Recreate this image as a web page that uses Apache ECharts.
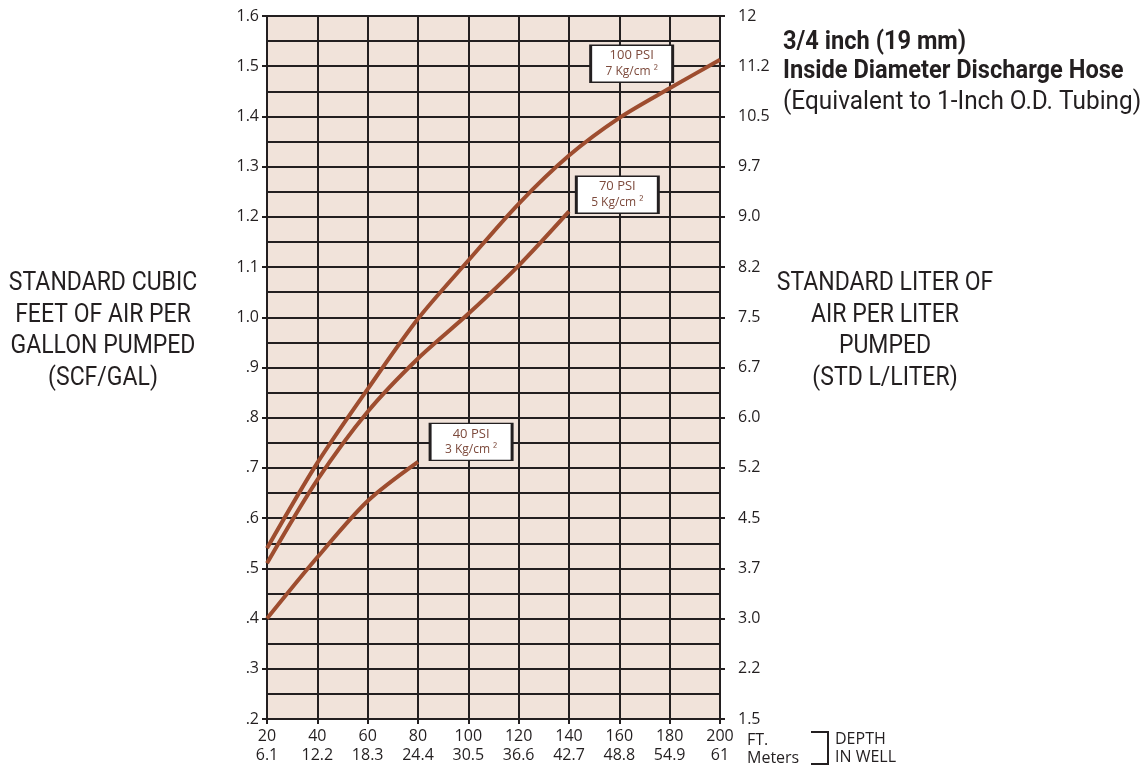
<!DOCTYPE html>
<html>
<head>
<meta charset="utf-8">
<script src="https://cdn.jsdelivr.net/npm/echarts@6/dist/echarts.min.js"></script>
<style>
html,body{margin:0;padding:0;background:#fff;}
#chart{width:1148px;height:770px;}
</style>
</head>
<body>
<div id="chart"></div>
<script>
// ---- data ----
const depthFt = [20, 40, 60, 80, 100, 120, 140, 160, 180, 200];
const depthM = ['6.1', '12.2', '18.3', '24.4', '30.5', '36.6', '42.7', '48.8', '54.9', '61'];
const leftTicks = ['.2', '.3', '.4', '.5', '.6', '.7', '.8', '.9', '1.0', '1.1', '1.2', '1.3', '1.4', '1.5', '1.6'];
const rightTicks = ['1.5', '2.2', '3.0', '3.7', '4.5', '5.2', '6.0', '6.7', '7.5', '8.2', '9.0', '9.7', '10.5', '11.2', '12'];
const psi100 = [0.54, 0.71, 0.857, 0.997, 1.113, 1.226, 1.322, 1.397, 1.456, 1.513];
const psi70 = [0.51, 0.676, 0.812, 0.918, 1.007, 1.103, 1.211];
const psi40 = [0.40, 0.522, 0.634, 0.712];

const INK = '#231f20';
const CURVE = '#9e4d2f';
const BOXTEXT = '#7d4a3c';
const tickFont = 'Open Sans';

function pairs(vals) { return vals.map((v, i) => [depthFt[i], v]); }
function idx(v) { return Math.round((v - 0.2) * 10); }

function boxMark(coord, l1, l2) {
  return {
    symbol: 'rect',
    symbolSize: [82, 37],
    silent: true,
    itemStyle: { color: '#ffffff', borderColor: INK, borderWidth: 2 },
    label: {
      show: true, position: 'inside',
      formatter: '{a|' + l1 + '}\n{b|' + l2 + '}',
      rich: {
        a: { fontFamily: tickFont, fontSize: 13, color: BOXTEXT, lineHeight: 16 },
        b: { fontFamily: tickFont, fontSize: 12, color: BOXTEXT, lineHeight: 16 }
      }
    },
    data: [{ coord: coord }]
  };
}

const chart = echarts.init(document.getElementById('chart'), null, { renderer: 'canvas' });

chart.setOption({
  animation: false,
  grid: {
    left: 267, right: 428, top: 16, bottom: 51,
    show: true, backgroundColor: '#f1e3da', borderWidth: 0
  },
  xAxis: {
    type: 'value', min: 20, max: 200, interval: 20,
    axisLine: { show: true, onZero: false, lineStyle: { color: INK, width: 2 } },
    axisTick: { show: true, length: 5, lineStyle: { color: INK, width: 2 } },
    splitLine: { show: true, lineStyle: { color: INK, width: 2 } },
    axisLabel: {
      margin: 8, fontFamily: tickFont, fontSize: 16, color: INK, lineHeight: 19,
      formatter: function (v) { const i = depthFt.indexOf(v); return v + '\n' + (i >= 0 ? depthM[i] : ''); }
    }
  },
  yAxis: [{
    type: 'value', min: 0.2, max: 1.6, interval: 0.1, position: 'left',
    axisLine: { show: true, lineStyle: { color: INK, width: 2 } },
    axisTick: { show: true, length: 5, lineStyle: { color: INK, width: 2 } },
    minorTick: { show: false, splitNumber: 2 },
    splitLine: { show: true, lineStyle: { color: INK, width: 2 } },
    minorSplitLine: { show: true, lineStyle: { color: INK, width: 2 } },
    axisLabel: {
      margin: 8, fontFamily: tickFont, fontSize: 16, color: INK,
      formatter: function (v) { return leftTicks[idx(v)]; }
    }
  }, {
    type: 'value', min: 0.2, max: 1.6, interval: 0.1, position: 'right',
    axisLine: { show: true, lineStyle: { color: INK, width: 2 } },
    axisTick: { show: true, length: 5, lineStyle: { color: INK, width: 2 } },
    splitLine: { show: false },
    axisLabel: {
      margin: 18, fontFamily: tickFont, fontSize: 16, color: INK,
      formatter: function (v) { return rightTicks[idx(v)]; }
    }
  }],
  series: [{
    name: '100 PSI', type: 'line', data: pairs(psi100), smooth: 0.3, showSymbol: false, z: 5,
    lineStyle: { color: CURVE, width: 4 },
    markPoint: boxMark([164.9, 1.505], '100 PSI', '7 Kg/cm ²')
  }, {
    name: '70 PSI', type: 'line', data: pairs(psi70), smooth: 0.3, showSymbol: false, z: 5,
    lineStyle: { color: CURVE, width: 4 },
    markPoint: boxMark([159.2, 1.244], '70 PSI', '5 Kg/cm ²')
  }, {
    name: '40 PSI', type: 'line', data: pairs(psi40), smooth: 0.3, showSymbol: false, z: 5,
    lineStyle: { color: CURVE, width: 4 },
    markPoint: boxMark([101.1, 0.752], '40 PSI', '3 Kg/cm ²')
  }],
  graphic: [
    { type: 'text', x: 103, y: 331, scaleX: 0.885, silent: true,
      style: { text: 'STANDARD CUBIC\nFEET OF AIR PER\nGALLON PUMPED\n(SCF/GAL)', fontFamily: 'Roboto', fontSize: 26,
        fill: INK, lineHeight: 31.5, align: 'center', textAlign: 'center', verticalAlign: 'middle', textVerticalAlign: 'middle' } },
    { type: 'text', x: 885, y: 331, scaleX: 0.885, silent: true,
      style: { text: 'STANDARD LITER OF\nAIR PER LITER\nPUMPED\n(STD L/LITER)', fontFamily: 'Roboto', fontSize: 26,
        fill: INK, lineHeight: 31.5, align: 'center', textAlign: 'center', verticalAlign: 'middle', textVerticalAlign: 'middle' } },
    { type: 'text', x: 783, y: 43, scaleX: 0.945, silent: true,
      style: { text: '3/4 inch (19 mm)', fontFamily: 'Roboto', fontWeight: 'bold', fontSize: 25,
        fill: INK, align: 'left', textAlign: 'left', verticalAlign: 'middle', textVerticalAlign: 'middle' } },
    { type: 'text', x: 783, y: 72, scaleX: 0.945, silent: true,
      style: { text: 'Inside Diameter Discharge Hose', fontFamily: 'Roboto', fontWeight: 'bold', fontSize: 25,
        fill: INK, align: 'left', textAlign: 'left', verticalAlign: 'middle', textVerticalAlign: 'middle' } },
    { type: 'text', x: 783, y: 103, scaleX: 0.975, silent: true,
      style: { text: '(Equivalent to 1-Inch O.D. Tubing)', fontFamily: 'Roboto', fontSize: 25,
        fill: INK, align: 'left', textAlign: 'left', verticalAlign: 'middle', textVerticalAlign: 'middle' } },
    { type: 'text', x: 747, y: 749, silent: true,
      style: { text: 'FT.\nMeters', fontFamily: tickFont, fontSize: 16, lineHeight: 18,
        fill: INK, align: 'left', textAlign: 'left', verticalAlign: 'middle', textVerticalAlign: 'middle' } },
    { type: 'text', x: 835, y: 748.5, silent: true,
      style: { text: 'DEPTH\nIN WELL', fontFamily: tickFont, fontSize: 16, lineHeight: 18,
        fill: INK, align: 'left', textAlign: 'left', verticalAlign: 'middle', textVerticalAlign: 'middle' } },
    { type: 'polyline', silent: true,
      shape: { points: [[811, 732], [828, 732], [828, 764], [811, 764]] },
      style: { stroke: INK, lineWidth: 2, fill: null } }
  ]
});
</script>
</body>
</html>
